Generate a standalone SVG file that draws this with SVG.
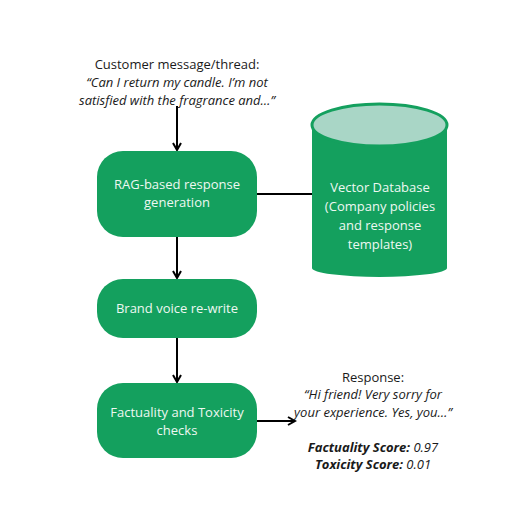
<svg xmlns="http://www.w3.org/2000/svg" width="531" height="529" viewBox="0 0 531 529">
<defs>
<marker id="ah" markerWidth="10" markerHeight="10" refX="8" refY="5" orient="auto" markerUnits="userSpaceOnUse">
<path d="M1,1 L8,5 L1,9" fill="none" stroke="#000" stroke-width="2"/>
</marker>
</defs>
<style>
.box{fill:#14a05e;}
.bt{font-family:"Open Sans","Liberation Sans",sans-serif;font-size:13px;fill:#eef8f2;text-anchor:middle;}
.t{font-family:"Open Sans","Liberation Sans",sans-serif;font-size:13px;fill:#1a1a1a;text-anchor:middle;}
.i{font-style:italic;}
.b{font-weight:bold;}
.c{stroke:#000;stroke-width:2;fill:none;}
</style>
<rect width="531" height="529" fill="#fff"/>
<g id="connectors">
<line class="c" x1="177" y1="106" x2="177" y2="150" marker-end="url(#ah)"/>
<line class="c" x1="177" y1="237" x2="177" y2="278" marker-end="url(#ah)"/>
<line class="c" x1="177" y1="338" x2="177" y2="382" marker-end="url(#ah)"/>
<line class="c" x1="257" y1="194" x2="313" y2="194"/>
<line class="c" x1="257" y1="421" x2="295" y2="421" marker-end="url(#ah)"/>
</g>
<g id="customer">
<text class="t" x="177" y="69">Customer message/thread:</text>
<text class="t i" x="177" y="87">“Can I return my candle. I’m not</text>
<text class="t i" x="177" y="105">satisfied with the fragrance and…”</text>
</g>
<g id="rag">
<rect class="box" x="97" y="151" width="160" height="86" rx="26"/>
<text class="bt" x="177" y="189">RAG-based response</text>
<text class="bt" x="177" y="207">generation</text>
</g>
<g id="vectordb">
<path d="M312,125 L312,268 A67.5,9 0 0 0 447,268 L447,125 Z" fill="#14a05e"/>
<ellipse cx="379.5" cy="125" rx="67.5" ry="21" fill="#a9d6c6" stroke="#14a05e" stroke-width="3"/>
<text class="bt" x="380" y="192">Vector Database</text>
<text class="bt" x="380" y="211">(Company policies</text>
<text class="bt" x="380" y="230">and response</text>
<text class="bt" x="380" y="249">templates)</text>
</g>
<g id="brand">
<rect class="box" x="97" y="279" width="160" height="59" rx="26"/>
<text class="bt" x="177" y="313">Brand voice re-write</text>
</g>
<g id="checks">
<rect class="box" x="97" y="383" width="160" height="75" rx="26"/>
<text class="bt" x="177" y="417">Factuality and Toxicity</text>
<text class="bt" x="177" y="435">checks</text>
</g>
<g id="response">
<text class="t" x="373" y="382">Response:</text>
<text class="t i" x="373" y="399">“Hi friend! Very sorry for</text>
<text class="t i" x="373" y="417">your experience. Yes, you…”</text>
<text class="t i" x="373" y="452"><tspan class="b">Factuality Score:</tspan> 0.97</text>
<text class="t i" x="373" y="469"><tspan class="b">Toxicity Score:</tspan> 0.01</text>
</g>
</svg>
